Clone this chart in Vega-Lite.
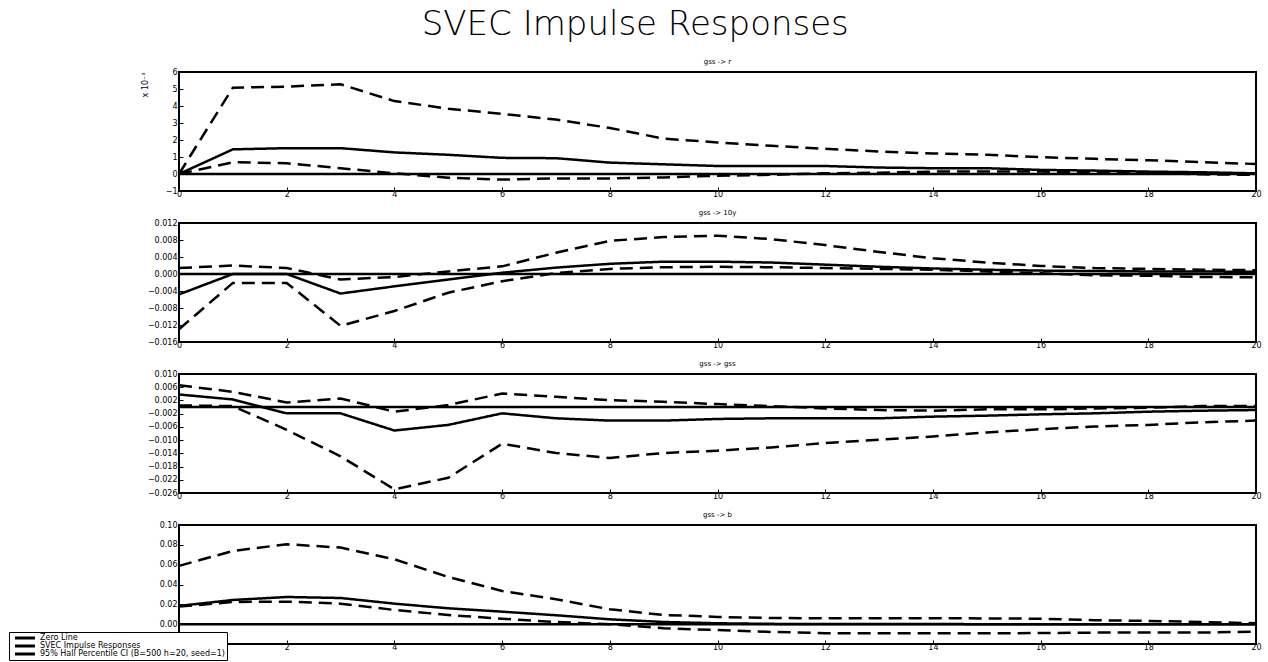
{
  "$schema": "https://vega.github.io/schema/vega-lite/v6.json",
  "background": "white",
  "padding": {"left": 8, "top": 8, "right": 5, "bottom": 2},
  "title": {
    "text": "SVEC Impulse Responses",
    "font": "DejaVu Sans",
    "fontSize": 34,
    "fontWeight": 200,
    "color": "black",
    "anchor": "middle",
    "offset": 15
  },
  "datasets": {
    "irf": [
      {"p": "r", "h": 0, "zero": 0, "irf": 0, "lo": 0, "up": 0},
      {"p": "r", "h": 1, "zero": 0, "irf": 0.00145, "lo": 0.00069, "up": 0.00508},
      {"p": "r", "h": 2, "zero": 0, "irf": 0.00152, "lo": 0.00063, "up": 0.00514},
      {"p": "r", "h": 3, "zero": 0, "irf": 0.00152, "lo": 0.00034, "up": 0.00528},
      {"p": "r", "h": 4, "zero": 0, "irf": 0.00127, "lo": 0.00004, "up": 0.00429},
      {"p": "r", "h": 5, "zero": 0, "irf": 0.00113, "lo": -0.00022, "up": 0.00384},
      {"p": "r", "h": 6, "zero": 0, "irf": 0.00095, "lo": -0.00033, "up": 0.00354},
      {"p": "r", "h": 7, "zero": 0, "irf": 0.00093, "lo": -0.00026, "up": 0.0032},
      {"p": "r", "h": 8, "zero": 0, "irf": 0.00067, "lo": -0.00026, "up": 0.00271},
      {"p": "r", "h": 9, "zero": 0, "irf": 0.00057, "lo": -0.0002, "up": 0.00208},
      {"p": "r", "h": 10, "zero": 0, "irf": 0.00047, "lo": -0.0001, "up": 0.00186},
      {"p": "r", "h": 11, "zero": 0, "irf": 0.00047, "lo": -0.00005, "up": 0.00166},
      {"p": "r", "h": 12, "zero": 0, "irf": 0.00047, "lo": 0.00004, "up": 0.00148},
      {"p": "r", "h": 13, "zero": 0, "irf": 0.00038, "lo": 0.00008, "up": 0.00132},
      {"p": "r", "h": 14, "zero": 0, "irf": 0.00034, "lo": 0.00014, "up": 0.00121},
      {"p": "r", "h": 15, "zero": 0, "irf": 0.00034, "lo": 0.00014, "up": 0.00113},
      {"p": "r", "h": 16, "zero": 0, "irf": 0.00024, "lo": 0.00014, "up": 0.00099},
      {"p": "r", "h": 17, "zero": 0, "irf": 0.0002, "lo": 0.0001, "up": 0.00089},
      {"p": "r", "h": 18, "zero": 0, "irf": 0.00014, "lo": 0.00008, "up": 0.00081},
      {"p": "r", "h": 19, "zero": 0, "irf": 0.0001, "lo": -0.00002, "up": 0.00069},
      {"p": "r", "h": 20, "zero": 0, "irf": 0.00004, "lo": -0.00005, "up": 0.00059},
      {"p": "10y", "h": 0, "zero": 0, "irf": -0.0048, "lo": -0.013, "up": 0.0014},
      {"p": "10y", "h": 1, "zero": 0, "irf": 0.0, "lo": -0.0021, "up": 0.002},
      {"p": "10y", "h": 2, "zero": 0, "irf": 0.0, "lo": -0.0021, "up": 0.0014},
      {"p": "10y", "h": 3, "zero": 0, "irf": -0.0046, "lo": -0.0122, "up": -0.0013},
      {"p": "10y", "h": 4, "zero": 0, "irf": -0.0029, "lo": -0.0087, "up": -0.0007},
      {"p": "10y", "h": 5, "zero": 0, "irf": -0.0013, "lo": -0.0044, "up": 0.0006},
      {"p": "10y", "h": 6, "zero": 0, "irf": 0.0003, "lo": -0.0017, "up": 0.0018},
      {"p": "10y", "h": 7, "zero": 0, "irf": 0.0015, "lo": 0.0002, "up": 0.005},
      {"p": "10y", "h": 8, "zero": 0, "irf": 0.0024, "lo": 0.0012, "up": 0.0078},
      {"p": "10y", "h": 9, "zero": 0, "irf": 0.0029, "lo": 0.0016, "up": 0.0087},
      {"p": "10y", "h": 10, "zero": 0, "irf": 0.0029, "lo": 0.0017, "up": 0.009},
      {"p": "10y", "h": 11, "zero": 0, "irf": 0.0027, "lo": 0.0016, "up": 0.0082},
      {"p": "10y", "h": 12, "zero": 0, "irf": 0.0022, "lo": 0.0014, "up": 0.0068},
      {"p": "10y", "h": 13, "zero": 0, "irf": 0.0017, "lo": 0.0012, "up": 0.0052},
      {"p": "10y", "h": 14, "zero": 0, "irf": 0.0013, "lo": 0.001, "up": 0.0037},
      {"p": "10y", "h": 15, "zero": 0, "irf": 0.001, "lo": 0.0006, "up": 0.0027},
      {"p": "10y", "h": 16, "zero": 0, "irf": 0.0008, "lo": 0.0002, "up": 0.0019},
      {"p": "10y", "h": 17, "zero": 0, "irf": 0.0007, "lo": -0.0003, "up": 0.0014},
      {"p": "10y", "h": 18, "zero": 0, "irf": 0.0006, "lo": -0.0004, "up": 0.0012},
      {"p": "10y", "h": 19, "zero": 0, "irf": 0.0006, "lo": -0.0007, "up": 0.001},
      {"p": "10y", "h": 20, "zero": 0, "irf": 0.0005, "lo": -0.0008, "up": 0.0009},
      {"p": "gss", "h": 0, "zero": 0, "irf": 0.0038, "lo": 0.0005, "up": 0.0066},
      {"p": "gss", "h": 1, "zero": 0, "irf": 0.0023, "lo": 0.0003, "up": 0.0046},
      {"p": "gss", "h": 2, "zero": 0, "irf": -0.0019, "lo": -0.0069, "up": 0.0014},
      {"p": "gss", "h": 3, "zero": 0, "irf": -0.0019, "lo": -0.0149, "up": 0.0026},
      {"p": "gss", "h": 4, "zero": 0, "irf": -0.0071, "lo": -0.0249, "up": -0.0014},
      {"p": "gss", "h": 5, "zero": 0, "irf": -0.0054, "lo": -0.0214, "up": 0.0006},
      {"p": "gss", "h": 6, "zero": 0, "irf": -0.0019, "lo": -0.0111, "up": 0.0041},
      {"p": "gss", "h": 7, "zero": 0, "irf": -0.0034, "lo": -0.0139, "up": 0.0031},
      {"p": "gss", "h": 8, "zero": 0, "irf": -0.0041, "lo": -0.0154, "up": 0.0021},
      {"p": "gss", "h": 9, "zero": 0, "irf": -0.0041, "lo": -0.0139, "up": 0.0016},
      {"p": "gss", "h": 10, "zero": 0, "irf": -0.0036, "lo": -0.0132, "up": 0.0009},
      {"p": "gss", "h": 11, "zero": 0, "irf": -0.0034, "lo": -0.0122, "up": 0.0003},
      {"p": "gss", "h": 12, "zero": 0, "irf": -0.0034, "lo": -0.0109, "up": -0.0004},
      {"p": "gss", "h": 13, "zero": 0, "irf": -0.0034, "lo": -0.0099, "up": -0.0009},
      {"p": "gss", "h": 14, "zero": 0, "irf": -0.0029, "lo": -0.0089, "up": -0.0011},
      {"p": "gss", "h": 15, "zero": 0, "irf": -0.0026, "lo": -0.0077, "up": -0.0007},
      {"p": "gss", "h": 16, "zero": 0, "irf": -0.0022, "lo": -0.0067, "up": -0.0007},
      {"p": "gss", "h": 17, "zero": 0, "irf": -0.0019, "lo": -0.0059, "up": -0.0004},
      {"p": "gss", "h": 18, "zero": 0, "irf": -0.0014, "lo": -0.0054, "up": -0.0002},
      {"p": "gss", "h": 19, "zero": 0, "irf": -0.0011, "lo": -0.0046, "up": 0.0003},
      {"p": "gss", "h": 20, "zero": 0, "irf": -0.0009, "lo": -0.0041, "up": 0.0003},
      {"p": "b", "h": 0, "zero": 0, "irf": 0.0184, "lo": 0.0177, "up": 0.0588},
      {"p": "b", "h": 1, "zero": 0, "irf": 0.0244, "lo": 0.0224, "up": 0.0738},
      {"p": "b", "h": 2, "zero": 0, "irf": 0.0274, "lo": 0.0227, "up": 0.0806},
      {"p": "b", "h": 3, "zero": 0, "irf": 0.0264, "lo": 0.0207, "up": 0.0772},
      {"p": "b", "h": 4, "zero": 0, "irf": 0.0207, "lo": 0.0143, "up": 0.0654},
      {"p": "b", "h": 5, "zero": 0, "irf": 0.016, "lo": 0.0093, "up": 0.0476},
      {"p": "b", "h": 6, "zero": 0, "irf": 0.0126, "lo": 0.0055, "up": 0.0335},
      {"p": "b", "h": 7, "zero": 0, "irf": 0.009, "lo": 0.0022, "up": 0.0251},
      {"p": "b", "h": 8, "zero": 0, "irf": 0.0049, "lo": 0.0, "up": 0.015},
      {"p": "b", "h": 9, "zero": 0, "irf": 0.0022, "lo": -0.004, "up": 0.0093},
      {"p": "b", "h": 10, "zero": 0, "irf": 0.0009, "lo": -0.006, "up": 0.0073},
      {"p": "b", "h": 11, "zero": 0, "irf": 0.0003, "lo": -0.0078, "up": 0.0062},
      {"p": "b", "h": 12, "zero": 0, "irf": 0.0002, "lo": -0.0091, "up": 0.006},
      {"p": "b", "h": 13, "zero": 0, "irf": 0.0001, "lo": -0.0091, "up": 0.006},
      {"p": "b", "h": 14, "zero": 0, "irf": 0.0001, "lo": -0.0091, "up": 0.006},
      {"p": "b", "h": 15, "zero": 0, "irf": 0.0, "lo": -0.0091, "up": 0.0058},
      {"p": "b", "h": 16, "zero": 0, "irf": 0.0, "lo": -0.009, "up": 0.0055},
      {"p": "b", "h": 17, "zero": 0, "irf": 0.0, "lo": -0.0085, "up": 0.004},
      {"p": "b", "h": 18, "zero": 0, "irf": 0.0, "lo": -0.0085, "up": 0.0033},
      {"p": "b", "h": 19, "zero": 0, "irf": 0.0, "lo": -0.0085, "up": 0.0022},
      {"p": "b", "h": 20, "zero": 0, "irf": 0.0, "lo": -0.0075, "up": 0.0009}
    ],
    "series": [
      {"key": "zero", "series": "Zero Line", "dash": "solid"},
      {"key": "irf", "series": "SVEC Impulse Responses", "dash": "solid"},
      {"key": "lo", "series": "95% Hall Percentile CI (B=500 h=20, seed=1)", "dash": "dashed"},
      {"key": "up", "series": "95% Hall Percentile CI (B=500 h=20, seed=1)", "dash": "dashed"}
    ]
  },
  "data": {"name": "irf"},
  "transform": [
    {"fold": ["zero", "irf", "lo", "up"]},
    {"lookup": "key", "from": {"data": {"name": "series"}, "key": "key", "fields": ["series", "dash"]}}
  ],
  "bounds": "flush",
  "spacing": 32,
  "vconcat": [
    {
      "title": "gss -> r",
      "width": 1077,
      "height": 119,
      "transform": [{"filter": "datum.p == 'r'"}],
      "mark": {"type": "line", "strokeWidth": 2.5, "strokeCap": "butt"},
      "encoding": {
        "x": {"field": "h", "type": "quantitative", "scale": {"domain": [0, 20], "nice": false},
          "axis": {"values": [0, 2, 4, 6, 8, 10, 12, 14, 16, 18, 20]}},
        "y": {
          "field": "value", "type": "quantitative",
          "scale": {"domain": [-0.001, 0.006], "nice": false, "zero": false},
          "axis": {
            "values": [-0.001, 0, 0.001, 0.002, 0.003, 0.004, 0.005, 0.006],
            "labelExpr": "format(datum.value * 1000, 'd')",
            "title": "x 10⁻³", "titleAnchor": "end", "titleFontSize": 8, "titleFontWeight": "normal", "titlePadding": 16
          }
        },
        "color": {"field": "series", "type": "nominal",
          "scale": {"domain": ["Zero Line", "SVEC Impulse Responses", "95% Hall Percentile CI (B=500 h=20, seed=1)"], "range": ["black", "black", "black"]}},
        "strokeDash": {"field": "dash", "type": "nominal", "scale": {"domain": ["solid", "dashed"], "range": [[1, 0], [13, 7]]}, "legend": null},
        "detail": {"field": "key"}
      }
    },
    {
      "title": "gss -> 10y",
      "width": 1077,
      "height": 119,
      "transform": [{"filter": "datum.p == '10y'"}],
      "mark": {"type": "line", "strokeWidth": 2.5, "strokeCap": "butt"},
      "encoding": {
        "x": {"field": "h", "type": "quantitative", "scale": {"domain": [0, 20], "nice": false},
          "axis": {"values": [0, 2, 4, 6, 8, 10, 12, 14, 16, 18, 20]}},
        "y": {
          "field": "value", "type": "quantitative",
          "scale": {"domain": [-0.016, 0.012], "nice": false, "zero": false},
          "axis": {"values": [-0.016, -0.012, -0.008, -0.004, 0, 0.004, 0.008, 0.012], "format": ".3f", "title": null}
        },
        "color": {"field": "series", "type": "nominal",
          "scale": {"domain": ["Zero Line", "SVEC Impulse Responses", "95% Hall Percentile CI (B=500 h=20, seed=1)"], "range": ["black", "black", "black"]}},
        "strokeDash": {"field": "dash", "type": "nominal", "scale": {"domain": ["solid", "dashed"], "range": [[1, 0], [13, 7]]}, "legend": null},
        "detail": {"field": "key"}
      }
    },
    {
      "title": "gss -> gss",
      "width": 1077,
      "height": 119,
      "transform": [{"filter": "datum.p == 'gss'"}],
      "mark": {"type": "line", "strokeWidth": 2.5, "strokeCap": "butt"},
      "encoding": {
        "x": {"field": "h", "type": "quantitative", "scale": {"domain": [0, 20], "nice": false},
          "axis": {"values": [0, 2, 4, 6, 8, 10, 12, 14, 16, 18, 20]}},
        "y": {
          "field": "value", "type": "quantitative",
          "scale": {"domain": [-0.026, 0.010], "nice": false, "zero": false},
          "axis": {"values": [-0.026, -0.022, -0.018, -0.014, -0.010, -0.006, -0.002, 0.002, 0.006, 0.010], "format": ".3f", "title": null}
        },
        "color": {"field": "series", "type": "nominal",
          "scale": {"domain": ["Zero Line", "SVEC Impulse Responses", "95% Hall Percentile CI (B=500 h=20, seed=1)"], "range": ["black", "black", "black"]}},
        "strokeDash": {"field": "dash", "type": "nominal", "scale": {"domain": ["solid", "dashed"], "range": [[1, 0], [13, 7]]}, "legend": null},
        "detail": {"field": "key"}
      }
    },
    {
      "title": "gss -> b",
      "width": 1077,
      "height": 119,
      "transform": [{"filter": "datum.p == 'b'"}],
      "mark": {"type": "line", "strokeWidth": 2.5, "strokeCap": "butt"},
      "encoding": {
        "x": {"field": "h", "type": "quantitative", "scale": {"domain": [0, 20], "nice": false},
          "axis": {"values": [0, 2, 4, 6, 8, 10, 12, 14, 16, 18, 20]}},
        "y": {
          "field": "value", "type": "quantitative",
          "scale": {"domain": [-0.02, 0.10], "nice": false, "zero": false},
          "axis": {"values": [-0.02, 0, 0.02, 0.04, 0.06, 0.08, 0.10], "format": ".2f", "title": null}
        },
        "color": {"field": "series", "type": "nominal",
          "scale": {"domain": ["Zero Line", "SVEC Impulse Responses", "95% Hall Percentile CI (B=500 h=20, seed=1)"], "range": ["black", "black", "black"]}},
        "strokeDash": {"field": "dash", "type": "nominal", "scale": {"domain": ["solid", "dashed"], "range": [[1, 0], [13, 7]]}, "legend": null},
        "detail": {"field": "key"}
      }
    }
  ],
  "resolve": {"scale": {"y": "independent"}},
  "config": {
    "font": "DejaVu Sans",
    "view": {"stroke": "black", "strokeWidth": 2},
    "title": {"fontSize": 7, "fontWeight": "normal", "offset": 3, "color": "black"},
    "axis": {
      "grid": false,
      "domain": false,
      "labelFont": "DejaVu Sans",
      "labelFontSize": 8,
      "labelColor": "black",
      "tickColor": "black",
      "tickSize": -4,
      "tickWidth": 1
    },
    "axisX": {"labelFlush": false, "labelPadding": 3, "title": null},
    "axisY": {"labelPadding": 6},
    "legend": {
      "orient": "none",
      "legendX": -170,
      "legendY": 560,
      "title": null,
      "fillColor": "white",
      "strokeColor": "black",
      "padding": 2,
      "rowPadding": 0,
      "clipHeight": 8,
      "symbolType": "M0,0H20",
      "symbolSize": 4,
      "symbolStrokeWidth": 3,
      "symbolStrokeColor": "black",
      "labelFontSize": 8,
      "labelFont": "DejaVu Sans",
      "labelColor": "black",
      "labelOffset": 21,
      "labelLimit": 0
    }
  }
}
